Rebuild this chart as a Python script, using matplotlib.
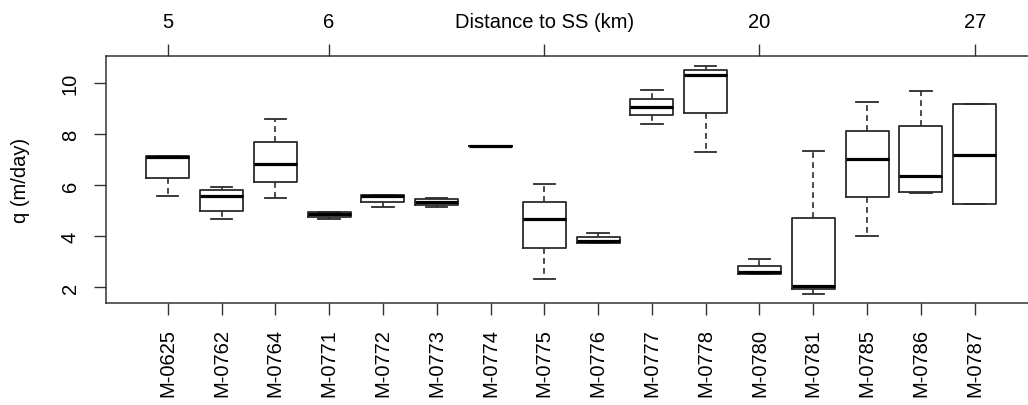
import matplotlib
matplotlib.use("Agg")
import matplotlib.pyplot as plt

plt.rcParams['font.family'] = ['Liberation Sans', 'DejaVu Sans']

# well names and the five box statistics per well (q in m/day)
sites = ["M-0625", "M-0762", "M-0764", "M-0771", "M-0772", "M-0773", "M-0774", "M-0775",
         "M-0776", "M-0777", "M-0778", "M-0780", "M-0781", "M-0785", "M-0786", "M-0787"]
q_whislo = [5.58, 4.68, 5.51, 4.68, 5.15, 5.16, 7.52, 2.34, 3.75, 8.39, 7.29, 2.50, 1.75, 4.00, 5.69, 5.25]
q_q1 = [6.30, 4.98, 6.14, 4.77, 5.36, 5.23, 7.52, 3.53, 3.75, 8.76, 8.82, 2.52, 1.93, 5.53, 5.73, 5.25]
q_med = [7.10, 5.58, 6.82, 4.86, 5.58, 5.34, 7.52, 4.68, 3.80, 9.07, 10.34, 2.61, 2.06, 7.03, 6.35, 7.19]
q_q3 = [7.13, 5.83, 7.71, 4.95, 5.63, 5.46, 7.52, 5.36, 3.95, 9.38, 10.53, 2.85, 4.73, 8.14, 8.34, 9.18]
q_whishi = [7.13, 5.95, 8.60, 4.95, 5.63, 5.48, 7.52, 6.04, 4.12, 9.74, 10.69, 3.11, 7.36, 9.28, 9.70, 9.18]

# top axis: distance to SS at selected wells
dist_pos = [1, 4, 8, 12, 16]
dist_labels = ["5", "6", "Distance to SS (km)", "20", "27"]

stats = []
for i in range(len(sites)):
    stats.append(dict(whislo=q_whislo[i], q1=q_q1[i], med=q_med[i],
                      q3=q_q3[i], whishi=q_whishi[i], fliers=[]))

fs = 14.5
fig = plt.figure(figsize=(10.28, 4.06), dpi=100)
ax = fig.add_axes([0.1035, 0.2512, 0.9043, 0.6091])

pos = list(range(1, len(sites) + 1))
ax.bxp(stats, positions=pos, widths=0.8, capwidths=0.4, showfliers=False,
       boxprops=dict(color='#2b2b2b', linewidth=1.3),
       medianprops=dict(color='black', linewidth=2.3, solid_capstyle='butt'),
       whiskerprops=dict(color='#2b2b2b', linewidth=1.2, linestyle=(0, (3.5, 2.5))),
       capprops=dict(color='#2b2b2b', linewidth=1.3))

ax.set_xlim(-0.14, 17.14)
ax.set_ylim(1.38, 11.08)
ax.set_xticks(pos)
ax.set_xticklabels(sites, rotation=90, fontsize=fs)
ax.set_yticks([2, 4, 6, 8, 10])
ax.set_yticklabels(["2", "4", "6", "8", "10"], rotation=90, va='center', fontsize=fs)
ax.tick_params(axis='x', direction='out', length=8.3, width=1, color='#333333', pad=9.5)
ax.tick_params(axis='y', direction='out', length=8.6, width=1, color='#333333', pad=10.5)
for sp in ax.spines.values():
    sp.set_color('#333333')
    sp.set_linewidth(1.1)

ax.set_ylabel("q (m/day)", fontsize=fs)
ax.yaxis.set_label_coords(-0.082, 0.5)

top = ax.secondary_xaxis('top')
top.set_xticks(dist_pos)
top.set_xticklabels(dist_labels, fontsize=fs)
top.tick_params(direction='out', length=8.6, width=1, color='#333333', pad=9.5)
top.spines['top'].set_visible(False)

fig.savefig("out.png", dpi=100)
